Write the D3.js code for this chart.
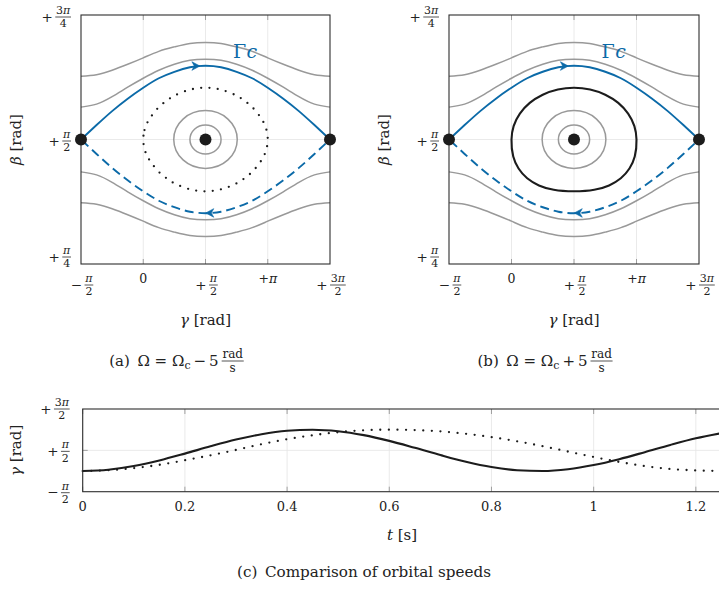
<!DOCTYPE html>
<html>
<head>
<meta charset="utf-8">
<script src="https://cdn.jsdelivr.net/npm/d3@7"></script>
<style>
  body { margin: 0; background: #fff; }
  svg text { font-family: "DejaVu Serif", "Liberation Serif", serif; fill: #222; }
</style>
</head>
<body>
<svg id="fig" width="719" height="589"></svg>
<script>
// ---------- data (all angles in units of π) ----------
// γ sample positions for the open phase curves
const phaseGamma = [-0.5, -0.375, -0.25, -0.125, 0, 0.125, 0.25, 0.375, 0.5,
                    0.625, 0.75, 0.875, 1, 1.125, 1.25, 1.375, 1.5];
// distance of each curve from β = π/2 (curves are mirrored above and below)
const separatrixOffset = [0, 0.029, 0.057, 0.082, 0.104, 0.123, 0.136, 0.145, 0.148,
                          0.145, 0.136, 0.123, 0.104, 0.082, 0.057, 0.029, 0];
const rotationNear = [0.065, 0.071, 0.086, 0.105, 0.123, 0.139, 0.151, 0.159, 0.161,
                      0.159, 0.151, 0.139, 0.123, 0.105, 0.086, 0.071, 0.065];
const rotationFar = [0.127, 0.130, 0.139, 0.151, 0.164, 0.177, 0.186, 0.193, 0.195,
                     0.193, 0.186, 0.177, 0.164, 0.151, 0.139, 0.130, 0.127];
// small librations around the centre: [half width in γ, half height in β]
const librationSmall = [[0.125, 0.029], [0.255, 0.058]];
// libration orbit of panel (a): upper half, mirrored below
const orbitAGamma = [0, 0.01, 0.031, 0.063, 0.125, 0.188, 0.25, 0.375, 0.5,
                     0.625, 0.75, 0.813, 0.875, 0.938, 0.969, 0.99, 1];
const orbitAOffset = [0, 0.019, 0.033, 0.046, 0.065, 0.078, 0.088, 0.100, 0.104,
                      0.100, 0.088, 0.078, 0.065, 0.046, 0.033, 0.019, 0];
// libration orbit of panel (b): closed loop [γ, β]
const orbitB = [[1.000, 0.500],
                [0.983, 0.527], [0.933, 0.552], [0.854, 0.5735], [0.750, 0.590], [0.629, 0.6005],
                [0.500, 0.604],
                [0.371, 0.6005], [0.250, 0.590], [0.146, 0.5735], [0.067, 0.552], [0.017, 0.527],
                [0.000, 0.500],
                [0.014, 0.466], [0.0565, 0.4417], [0.1255, 0.4221], [0.2195, 0.4078], [0.338, 0.399],
                [0.500, 0.396],
                [0.662, 0.399], [0.7805, 0.4078], [0.8745, 0.4221], [0.9435, 0.4417], [0.986, 0.466]];
const equilibria = [[-0.5, 0.5], [0.5, 0.5], [1.5, 0.5]];
// flow direction marks on Γc: [γ, β, heading in degrees]
const flowArrows = [[0.447, 0.6475, 0], [0.510, 0.3525, 180]];
const gammaLabelPos = [0.72, 0.664];

// time histories of γ
const time = [0, 0.05, 0.1, 0.15, 0.2, 0.25, 0.3, 0.35, 0.4, 0.45, 0.5, 0.55, 0.6,
              0.65, 0.7, 0.75, 0.8, 0.85, 0.9, 0.95, 1, 1.05, 1.1, 1.15, 1.2, 1.25];
const gammaFast = [0, 0.031, 0.120, 0.255, 0.421, 0.597, 0.760, 0.891, 0.975, 1.000,
                   0.963, 0.868, 0.729, 0.561, 0.386, 0.224, 0.096, 0.020, 0.001, 0.044,
                   0.145, 0.287, 0.456, 0.631, 0.791, 0.915];
const gammaSlow = [0, 0.02, 0.07, 0.15, 0.26, 0.38, 0.51, 0.65, 0.77, 0.865,
                   0.94, 0.985, 1.0, 0.99, 0.96, 0.90, 0.82, 0.72, 0.60, 0.47,
                   0.34, 0.22, 0.12, 0.05, 0.015, 0];

// tick labels (shift = vertical nudge of the label in px)
const phaseXTicks = [
  { v: -0.5, sign: "−", num: "π", den: "2" },
  { v: 0, text: "0" },
  { v: 0.5, sign: "+", num: "π", den: "2" },
  { v: 1, text: "+π" },
  { v: 1.5, sign: "+", num: "3π", den: "2" }
];
const betaTicks = [
  { v: 0.25, sign: "+", num: "π", den: "4", shift: -7 },
  { v: 0.5, sign: "+", num: "π", den: "2", shift: 1.5 },
  { v: 0.75, sign: "+", num: "3π", den: "4", shift: 2 }
];
const gammaTicks = [
  { v: -0.5, sign: "−", num: "π", den: "2", shift: 1 },
  { v: 0.5, sign: "+", num: "π", den: "2", shift: 1 },
  { v: 1.5, sign: "+", num: "3π", den: "2", shift: 0 }
];
const timeTicks = [0, 0.2, 0.4, 0.6, 0.8, 1, 1.2];

const panelDefs = [
  { id: "a", left: 81, right: 330, sign: "−", orbit: "dotted", capCenter: 176.5 },
  { id: "b", left: 449, right: 699, sign: "+", orbit: "solid", capCenter: 545 }
];

// ---------- styles ----------
const BLUE = "#0b6aa8";
const GREY = "#999999";
const GRID = "#e4e4e4";
const TICK = "#8a8a8a";
const FRAME = "#2e2e2e";
const INK = "#1c1c1c";
const FRAC_FS = 11;
const SIGN_FS = 13.5;

const svg = d3.select("#fig");

// text with italic π
function mathText(sel, s) {
  s.split(/(π)/).forEach(p => {
    if (!p) return;
    const t = sel.append("tspan").text(p);
    if (p === "π") t.attr("font-style", "italic");
  });
  return sel;
}

// stacked fraction centred at x with bar at y; returns its width
function fraction(g, x, y, num, den, fs) {
  const n = mathText(g.append("text").attr("x", x).attr("y", y - 3)
    .attr("text-anchor", "middle").attr("font-size", fs), num);
  const d = mathText(g.append("text").attr("x", x).attr("y", y + fs * 0.95)
    .attr("text-anchor", "middle").attr("font-size", fs), den);
  const w = Math.max(n.node().getComputedTextLength(), d.node().getComputedTextLength()) + 1.5;
  g.append("line").attr("x1", x - w / 2).attr("x2", x + w / 2)
    .attr("y1", y).attr("y2", y).attr("stroke", INK).attr("stroke-width", 0.75);
  return w;
}

function measure(str, fs) {
  const t = svg.append("text").attr("font-size", fs).text(str);
  const w = t.node().getComputedTextLength();
  t.remove();
  return w;
}

// "sign num/den" with its right edge at xr and the bar at y (vertical axes)
function yFracLabel(g, xr, y, tk) {
  const fw = Math.max(measure(tk.num, FRAC_FS), measure(tk.den, FRAC_FS)) + 1.5;
  const cx = xr - fw / 2;
  fraction(g, cx, y, tk.num, tk.den, FRAC_FS);
  g.append("text").attr("x", cx - fw / 2 - 2.5).attr("y", y + 4.5)
    .attr("text-anchor", "end").attr("font-size", SIGN_FS).text(tk.sign);
}

// label centred on x with the bar at barY (horizontal axes)
function xFracLabel(g, x, barY, tk) {
  if (tk.text) {
    mathText(g.append("text").attr("x", x).attr("y", barY - 2.3)
      .attr("text-anchor", "middle").attr("font-size", 12.5), tk.text);
    return;
  }
  const fw = Math.max(measure(tk.num, FRAC_FS), measure(tk.den, FRAC_FS)) + 1.5;
  const sw = measure(tk.sign, SIGN_FS);
  const gap = 2.5;
  const start = x - (sw + gap + fw) / 2 + 1;
  g.append("text").attr("x", start).attr("y", barY + 4.5)
    .attr("font-size", SIGN_FS).text(tk.sign);
  fraction(g, start + sw + gap + fw / 2, barY, tk.num, tk.den, FRAC_FS);
}

// ---------- phase portraits ----------
panelDefs.forEach(p => {
  const g = svg.append("g");
  const x = d3.scaleLinear().domain([-0.5, 1.5]).range([p.left, p.right]);
  const y = d3.scaleLinear().domain([0.25, 0.75]).range([264, 15]);

  // grid and inner ticks
  [0, 0.5, 1].forEach(v => {
    g.append("line").attr("x1", x(v)).attr("x2", x(v)).attr("y1", y(0.75)).attr("y2", y(0.25))
      .attr("stroke", GRID).attr("stroke-width", 0.8);
    g.append("line").attr("x1", x(v)).attr("x2", x(v)).attr("y1", y(0.75)).attr("y2", y(0.75) + 5)
      .attr("stroke", TICK).attr("stroke-width", 0.8);
    g.append("line").attr("x1", x(v)).attr("x2", x(v)).attr("y1", y(0.25)).attr("y2", y(0.25) - 5)
      .attr("stroke", TICK).attr("stroke-width", 0.8);
  });
  g.append("line").attr("x1", x(-0.5)).attr("x2", x(1.5)).attr("y1", y(0.5)).attr("y2", y(0.5))
    .attr("stroke", GRID).attr("stroke-width", 0.8);

  const open = d3.line().x(d => x(d[0])).y(d => y(d[1])).curve(d3.curveNatural);

  // rotating orbits above and below
  [rotationNear, rotationFar].forEach(off => {
    [1, -1].forEach(s => {
      g.append("path").attr("d", open(phaseGamma.map((gm, i) => [gm, 0.5 + s * off[i]])))
        .attr("fill", "none").attr("stroke", GREY).attr("stroke-width", 1.5);
    });
  });

  // small librations
  librationSmall.forEach(([hw, hh]) => {
    g.append("ellipse").attr("cx", x(0.5)).attr("cy", y(0.5))
      .attr("rx", x(0.5 + hw) - x(0.5)).attr("ry", y(0.5) - y(0.5 + hh))
      .attr("fill", "none").attr("stroke", GREY).attr("stroke-width", 1.5);
  });

  // the larger libration orbit
  const closed = d3.line().x(d => x(d[0])).y(d => y(d[1])).curve(d3.curveCatmullRomClosed.alpha(0.5));
  if (p.orbit === "dotted") {
    const upper = orbitAGamma.map((gm, i) => [gm, 0.5 + orbitAOffset[i]]);
    const lower = orbitAGamma.map((gm, i) => [gm, 0.5 - orbitAOffset[i]]).slice(1, -1).reverse();
    g.append("path").attr("d", closed(upper.concat(lower)))
      .attr("fill", "none").attr("stroke", INK).attr("stroke-width", 2.3)
      .attr("stroke-linecap", "round").attr("stroke-dasharray", "0 8.3");
  } else {
    g.append("path").attr("d", closed(orbitB))
      .attr("fill", "none").attr("stroke", INK).attr("stroke-width", 2.1);
  }

  // separatrix Γc
  g.append("path").attr("d", open(phaseGamma.map((gm, i) => [gm, 0.5 + separatrixOffset[i]])))
    .attr("fill", "none").attr("stroke", BLUE).attr("stroke-width", 1.9);
  const lowerSep = phaseGamma.map((gm, i) => [gm, 0.5 - separatrixOffset[i]]).reverse();
  g.append("path").attr("d", open(lowerSep))
    .attr("fill", "none").attr("stroke", BLUE).attr("stroke-width", 1.9)
    .attr("stroke-dasharray", "9 5").attr("stroke-dashoffset", -6);

  flowArrows.forEach(([gm, b, ang]) => {
    g.append("path").attr("d", "M1,0 L-7,-4.3 L-4.6,0 L-7,4.3 Z")
      .attr("transform", `translate(${x(gm)},${y(b)}) rotate(${ang})`)
      .attr("fill", BLUE).attr("stroke", BLUE).attr("stroke-width", 0.6).attr("stroke-linejoin", "round");
  });

  // frame
  g.append("rect").attr("x", x(-0.5)).attr("y", y(0.75))
    .attr("width", x(1.5) - x(-0.5)).attr("height", y(0.25) - y(0.75))
    .attr("fill", "none").attr("stroke", FRAME).attr("stroke-width", 1.1);

  // equilibrium points
  equilibria.forEach(([gm, b]) => {
    g.append("circle").attr("cx", x(gm)).attr("cy", y(b)).attr("r", 6).attr("fill", INK);
  });

  // Γc label
  const lab = g.append("text").attr("x", x(gammaLabelPos[0])).attr("y", y(gammaLabelPos[1]))
    .attr("font-size", 19);
  lab.append("tspan").text("Γ").style("fill", BLUE);
  lab.append("tspan").text("c").attr("font-style", "italic").attr("dx", 0.5).style("fill", BLUE);

  // tick labels
  phaseXTicks.forEach(tk => xFracLabel(g, x(tk.v), 285, tk));
  betaTicks.forEach(tk => yFracLabel(g, x(-0.5) - 10, y(tk.v) + tk.shift, tk));

  // axis titles
  const xt = g.append("text").attr("x", x(0.5)).attr("y", 325).attr("text-anchor", "middle").attr("font-size", 15);
  xt.append("tspan").text("γ").attr("font-style", "italic");
  xt.append("tspan").text(" [rad]");
  const yt = g.append("text").attr("transform", `translate(${x(-0.5) - 60},${y(0.5)}) rotate(-90)`)
    .attr("text-anchor", "middle").attr("font-size", 15);
  yt.append("tspan").text("β").attr("font-style", "italic");
  yt.append("tspan").text(" [rad]");

  // caption
  const capY = 366;
  const cap = g.append("text").attr("y", capY).attr("font-size", 15);
  cap.append("tspan").text(`(${p.id})\u2002Ω = Ω`);
  cap.append("tspan").attr("font-size", 11).attr("dy", 3).text("c");
  cap.append("tspan").attr("dy", -3).text(`\u2009${p.sign}\u20095\u2009`);
  const cw = cap.node().getComputedTextLength();
  const fw = Math.max(measure("rad", 12), measure("s", 12)) + 1.5;
  const start = p.capCenter - (cw + fw) / 2;
  cap.attr("x", start);
  fraction(g, start + cw + fw / 2, capY - 5, "rad", "s", 12);
});

// ---------- time history ----------
{
  const g = svg.append("g");
  const x = d3.scaleLinear().domain([0, 1.25]).range([82.7, 721.4]);
  const y = d3.scaleLinear().domain([-0.5, 1.5]).range([491.7, 409]);

  timeTicks.forEach(v => {
    g.append("line").attr("x1", x(v)).attr("x2", x(v)).attr("y1", y(1.5)).attr("y2", y(-0.5))
      .attr("stroke", GRID).attr("stroke-width", 0.8);
    g.append("line").attr("x1", x(v)).attr("x2", x(v)).attr("y1", y(1.5)).attr("y2", y(1.5) + 5)
      .attr("stroke", TICK).attr("stroke-width", 0.8);
    g.append("line").attr("x1", x(v)).attr("x2", x(v)).attr("y1", y(-0.5)).attr("y2", y(-0.5) - 5)
      .attr("stroke", TICK).attr("stroke-width", 0.8);
    g.append("text").attr("x", x(v)).attr("y", 511).attr("text-anchor", "middle")
      .attr("font-size", 13).text(d3.format("~g")(v));
  });
  g.append("line").attr("x1", x(0)).attr("x2", x(1.25)).attr("y1", y(0.5)).attr("y2", y(0.5))
    .attr("stroke", GRID).attr("stroke-width", 0.8);
  g.append("line").attr("x1", x(0)).attr("x2", x(0) + 5).attr("y1", y(0.5)).attr("y2", y(0.5))
    .attr("stroke", TICK).attr("stroke-width", 0.8);

  const line = d3.line().x(d => x(d[0])).y(d => y(d[1])).curve(d3.curveMonotoneX);
  g.append("path").attr("d", line(time.map((t, i) => [t, gammaSlow[i]])))
    .attr("fill", "none").attr("stroke", INK).attr("stroke-width", 2.3)
    .attr("stroke-linecap", "round").attr("stroke-dasharray", "0 8.6");
  g.append("path").attr("d", line(time.map((t, i) => [t, gammaFast[i]])))
    .attr("fill", "none").attr("stroke", INK).attr("stroke-width", 2.1);

  g.append("rect").attr("x", x(0)).attr("y", y(1.5))
    .attr("width", x(1.25) - x(0)).attr("height", y(-0.5) - y(1.5))
    .attr("fill", "none").attr("stroke", FRAME).attr("stroke-width", 1.1);

  gammaTicks.forEach(tk => yFracLabel(g, x(0) - 13, y(tk.v) + tk.shift, tk));

  const xt = g.append("text").attr("x", x(0.625)).attr("y", 540).attr("text-anchor", "middle").attr("font-size", 15);
  xt.append("tspan").text("t").attr("font-style", "italic");
  xt.append("tspan").text(" [s]");
  const yt = g.append("text").attr("transform", `translate(${x(0) - 62},${y(0.5)}) rotate(-90)`)
    .attr("text-anchor", "middle").attr("font-size", 15);
  yt.append("tspan").text("γ").attr("font-style", "italic");
  yt.append("tspan").text(" [rad]");

  svg.append("text").attr("x", 364).attr("y", 577).attr("text-anchor", "middle")
    .attr("font-size", 15.2).text("(c)\u2002Comparison of orbital speeds");
}
</script>
</body>
</html>
